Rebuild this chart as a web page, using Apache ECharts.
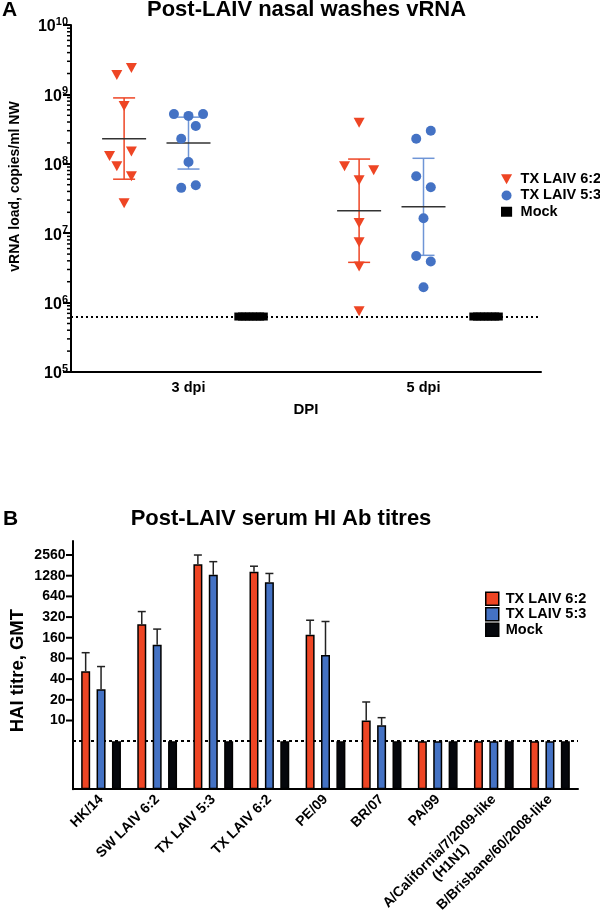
<!DOCTYPE html>
<html><head><meta charset="utf-8">
<script src="https://cdn.jsdelivr.net/npm/echarts@6/dist/echarts.min.js"></script>
<style>html,body{margin:0;padding:0;background:#fff}#c{width:600px;height:924px}</style>
</head><body><div id="c"></div>
<script>
// ---------- Panel A data (vRNA copies/ml NW) ----------
const dpiCategories = ['3 dpi', '5 dpi'];
const laiv62_3dpi = [2.4e9, 1.9e9, 6.8e8, 1.5e8, 1.3e8, 9.2e7, 6.6e7, 2.7e7];
const laiv62_5dpi = [3.9e8, 9.2e7, 8.1e7, 5.8e7, 1.4e7, 7.4e6, 3.3e6, 7.5e5];
const laiv53_3dpi = [5.2e8, 4.9e8, 5.2e8, 3.5e8, 2.3e8, 1.06e8, 4.5e7, 4.9e7];
const laiv53_5dpi = [3.0e8, 2.3e8, 6.6e7, 4.6e7, 1.64e7, 4.7e6, 3.9e6, 1.66e6];
const mock_3dpi = [6.3e5, 6.3e5, 6.3e5, 6.3e5, 6.3e5, 6.3e5, 6.3e5, 6.3e5];
const mock_5dpi = [6.3e5, 6.3e5, 6.3e5, 6.3e5, 6.3e5, 6.3e5, 6.3e5, 6.3e5];
// geometric mean and SD bounds, [3 dpi, 5 dpi]
const laiv62_mean = [2.3e8, 2.1e7];
const laiv62_sdLow = [6.0e7, 3.8e6];
const laiv62_sdHigh = [8.9e8, 1.17e8];
const laiv53_mean = [2.0e8, 2.4e7];
const laiv53_sdLow = [8.4e7, 4.8e6];
const laiv53_sdHigh = [4.7e8, 1.2e8];
const lodA = 6.3e5;

// ---------- Panel B data (HAI titre, GMT) ----------
const antigens = ['HK/14', 'SW LAIV 6:2', 'TX LAIV 5:3', 'TX LAIV 6:2', 'PE/09', 'BR/07', 'PA/99',
  'A/California/7/2009-like\n(H1N1)', 'B/Brisbane/60/2008-like'];
const hai62 = [52, 252, 1880, 1460, 177, 10, 5, 5, 5];
const hai62Err = [97, 385, 2560, 1760, 288, 18.6, null, null, null];
const hai53 = [28.4, 127, 1320, 1030, 90, 8.5, 5, 5, 5];
const hai53Err = [61, 214, 2050, 1380, 276, 11, null, null, null];
const haiMock = [5, 5, 5, 5, 5, 5, 5, 5, 5];
const lodB = 5;
const yTicksB = [10, 20, 40, 80, 160, 320, 640, 1280, 2560];

// ---------- layout / style (not data) ----------
const jit62_3 = [1, -1, 0, 1, -2, -1, 1, 0];
const jit62_5 = [0, -2, 2, 0, 0, 0, 0, 0];
const jit53_3 = [-2, 0, 2, 1, -1, 0, -1, 1];
const jit53_5 = [1, -1, -1, 1, 0, -1, 1, 0];
const jitMock = [-2, -1.5, -1, -0.5, 0, 0.5, 1, 1.5, 2];
const JIT = 0.062, GROUP = 0.548, BAR_STEP = 15.4;
const F = '"Liberation Sans", Arial, Helvetica, sans-serif';
const RED = '#EE4524', BLUE = '#4472C4', BLUE_SD = '#6F95D6', BLACK = '#05070C';

function pts(values, jit, cat, g) {
  return values.map((v, i) => [cat * 2 + 1 + g * GROUP + jit[i] * JIT, v]);
}
function sdRows(g, mean, lo, hi) {
  return mean.map((m, c) => [c * 2 + 1 + g * GROUP, m, lo[c], hi[c]]);
}
function sdRender(color) {
  return function (params, api) {
    const x = api.value(0);
    const pm = api.coord([x, api.value(1)]), pl = api.coord([x, api.value(2)]), ph = api.coord([x, api.value(3)]);
    const cx = pm[0], st = { stroke: color, lineWidth: 1.5 };
    return { type: 'group', children: [
      { type: 'line', shape: { x1: cx, y1: pl[1], x2: cx, y2: ph[1] }, style: st },
      { type: 'line', shape: { x1: cx - 11, y1: pl[1], x2: cx + 11, y2: pl[1] }, style: st },
      { type: 'line', shape: { x1: cx - 11, y1: ph[1], x2: cx + 11, y2: ph[1] }, style: st },
      { type: 'line', shape: { x1: cx - 22, y1: pm[1], x2: cx + 22, y2: pm[1] }, style: { stroke: '#333', lineWidth: 1.5 } }
    ]};
  };
}
// minor ticks of the log axis in panel A
const minorA = [];
for (let e = 5; e < 10; e++) for (let m = 2; m <= 9; m++) minorA.push([0, m * Math.pow(10, e)]);

const errData = [];
hai62Err.forEach((e, i) => { if (e != null) errData.push([i, hai62[i], e, -1]); });
hai53Err.forEach((e, i) => { if (e != null) errData.push([i, hai53[i], e, 0]); });

const chart = echarts.init(document.getElementById('c'), null, { renderer: 'canvas' });
const axisLineBlack = { show: true, lineStyle: { color: '#000', width: 2 } };

chart.setOption({
  animation: false,
  backgroundColor: '#fff',
  graphic: [
    { type: 'text', x: 2, y: 10, style: { text: 'A', font: 'bold 21px ' + F, fill: '#000', verticalAlign: 'middle' } },
    { type: 'text', x: 306.5, y: 10, style: { text: 'Post-LAIV nasal washes vRNA', font: 'bold 22px ' + F, fill: '#000', align: 'center', verticalAlign: 'middle' } },
    { type: 'text', x: 3, y: 519, style: { text: 'B', font: 'bold 21px ' + F, fill: '#000', verticalAlign: 'middle' } },
    { type: 'text', x: 281, y: 519, style: { text: 'Post-LAIV serum HI Ab titres', font: 'bold 22px ' + F, fill: '#000', align: 'center', verticalAlign: 'middle' } }
  ],
  legend: [
    { orient: 'vertical', left: 496, top: 166, itemWidth: 18, itemHeight: 10, itemGap: 0, selectedMode: false,
      textStyle: { fontFamily: F, fontSize: 14.5, fontWeight: 'bold', color: '#000', lineHeight: 16.3 },
      data: [
        { name: 'TX LAIV 6:2', icon: 'path://M0,0L10,0L5,9Z', itemStyle: { color: RED, borderWidth: 0 } },
        { name: 'TX LAIV 5:3', icon: 'circle', itemStyle: { color: BLUE, borderWidth: 0 } },
        { name: 'Mock', icon: 'path://M0,0H10V9H0Z', itemStyle: { color: '#000', borderWidth: 0 } }
      ] },
    { orient: 'vertical', left: 480, top: 586, itemWidth: 17, itemHeight: 13, itemGap: 0, selectedMode: false,
      textStyle: { fontFamily: F, fontSize: 14.5, fontWeight: 'bold', color: '#000', lineHeight: 15.5 },
      data: [
        { name: 'TX LAIV 6:2', icon: 'path://M0,0H10V10H0Z', itemStyle: { color: RED, borderColor: '#000', borderWidth: 1.5 } },
        { name: 'TX LAIV 5:3', icon: 'path://M0,0H10V10H0Z', itemStyle: { color: BLUE, borderColor: '#000', borderWidth: 1.5 } },
        { name: 'Mock', icon: 'path://M0,0H10V10H0Z', itemStyle: { color: BLACK, borderColor: '#000', borderWidth: 1.5 } }
      ] }
  ],
  grid: [
    { left: 70, top: 25, width: 471, height: 347 },
    { left: 70, top: 541, width: 508, height: 250 }
  ],
  xAxis: [
    { gridIndex: 0, type: 'category', data: dpiCategories, boundaryGap: true,
      axisLine: Object.assign({ onZero: false }, axisLineBlack),
      axisTick: { alignWithLabel: true, length: 5, lineStyle: { color: '#000', width: 2 } },
      axisLabel: { color: '#000', fontFamily: F, fontWeight: 'bold', fontSize: 14.5, margin: 8 },
      name: 'DPI', nameLocation: 'middle', nameGap: 30,
      nameTextStyle: { color: '#000', fontFamily: F, fontWeight: 'bold', fontSize: 15 } },
    { gridIndex: 0, type: 'value', min: 0, max: 4, show: false },
    { gridIndex: 1, type: 'category', data: antigens, boundaryGap: true,
      axisLine: Object.assign({ onZero: false }, axisLineBlack),
      axisTick: { alignWithLabel: true, length: 5, lineStyle: { color: '#000', width: 2 } },
      axisLabel: { color: '#000', fontFamily: F, fontWeight: 'bold', fontSize: 14, rotate: 45, interval: 0, margin: 8,
        formatter: function (v) {
          if (v.indexOf('\n') < 0) return '{c|' + v + '}';
          return '{c| }\n' + v.split('\n').map(s => '{c|' + s + '}').join('\n');
        },
        rich: { c: { align: 'center', fontFamily: F, fontWeight: 'bold', fontSize: 14, color: '#000', lineHeight: 16 } } } }
  ],
  yAxis: [
    { gridIndex: 0, type: 'log', logBase: 10, min: 1e5, max: 1e10,
      axisLine: axisLineBlack, splitLine: { show: false },
      axisTick: { show: true, length: 8, lineStyle: { color: '#000', width: 2 } },
      axisLabel: { margin: 3, fontFamily: F, fontWeight: 'bold', fontSize: 16, color: '#000',
        formatter: function (v) { return '{b|10}{s|' + Math.round(Math.log10(v)) + '}'; },
        rich: {
          b: { fontFamily: F, fontWeight: 'bold', fontSize: 16, color: '#000', lineHeight: 17, padding: [4, 0, 0, 0] },
          s: { fontFamily: F, fontWeight: 'bold', fontSize: 11, color: '#000', verticalAlign: 'top', lineHeight: 11 }
        } },
      name: 'vRNA load, copies/ml NW', nameLocation: 'middle', nameRotate: 90, nameGap: 49,
      nameTextStyle: { color: '#000', fontFamily: F, fontWeight: 'bold', fontSize: 14, padding: [0, 0, 0, 24] } },
    { gridIndex: 1, type: 'log', logBase: 2, min: 1, max: 4096,
      axisLine: axisLineBlack, splitLine: { show: false },
      axisTick: { show: false }, axisLabel: { show: false },
      name: 'HAI titre, GMT', nameLocation: 'middle', nameRotate: 90, nameGap: 46,
      nameTextStyle: { color: '#000', fontFamily: F, fontWeight: 'bold', fontSize: 18.5, padding: [0, 11, 0, 0] } }
  ],
  series: [
    // ---- Panel A ----
    { type: 'custom', xAxisIndex: 1, yAxisIndex: 0, renderItem: sdRender(RED), z: 3,
      dimensions: ['x', 'mean', 'lo', 'hi'], encode: { x: 'x', y: ['mean', 'lo', 'hi'] },
      data: sdRows(-1, laiv62_mean, laiv62_sdLow, laiv62_sdHigh) },
    { type: 'custom', xAxisIndex: 1, yAxisIndex: 0, renderItem: sdRender(BLUE_SD), z: 3,
      dimensions: ['x', 'mean', 'lo', 'hi'], encode: { x: 'x', y: ['mean', 'lo', 'hi'] },
      data: sdRows(0, laiv53_mean, laiv53_sdLow, laiv53_sdHigh) },
    { name: 'TX LAIV 6:2', type: 'scatter', xAxisIndex: 1, yAxisIndex: 0, z: 4,
      symbol: 'triangle', symbolRotate: 180, symbolSize: [11, 10], itemStyle: { color: RED, opacity: 1 },
      data: pts(laiv62_3dpi, jit62_3, 0, -1).concat(pts(laiv62_5dpi, jit62_5, 1, -1)) },
    { name: 'TX LAIV 5:3', type: 'scatter', xAxisIndex: 1, yAxisIndex: 0, z: 4,
      symbol: 'circle', symbolSize: 10, itemStyle: { color: BLUE, opacity: 1 },
      data: pts(laiv53_3dpi, jit53_3, 0, 0).concat(pts(laiv53_5dpi, jit53_5, 1, 0)) },
    { name: 'Mock', type: 'scatter', xAxisIndex: 1, yAxisIndex: 0, z: 4,
      symbol: 'rect', symbolSize: 8, itemStyle: { color: '#000', opacity: 1 },
      data: pts(mock_3dpi, jitMock, 0, 1).concat(pts(mock_5dpi, jitMock, 1, 1)),
      markLine: { silent: true, z: 1, symbol: 'none', label: { show: false },
        lineStyle: { color: '#000', width: 2, type: [2, 3] }, data: [{ yAxis: lodA }] } },
    { type: 'custom', xAxisIndex: 1, yAxisIndex: 0, silent: true, z: 3,
      renderItem: function (params, api) {
        const y = api.coord([0, api.value(1)])[1], x0 = params.coordSys.x;
        return { type: 'line', shape: { x1: x0 - 4, y1: y, x2: x0, y2: y }, style: { stroke: '#000', lineWidth: 1.5 } };
      }, data: minorA },
    // ---- Panel B ----
    { name: 'TX LAIV 6:2', type: 'bar', xAxisIndex: 2, yAxisIndex: 1, barWidth: 9, barGap: '71%', z: 2,
      itemStyle: { color: RED, borderColor: '#000', borderWidth: 1.5 }, data: hai62 },
    { name: 'TX LAIV 5:3', type: 'bar', xAxisIndex: 2, yAxisIndex: 1, barWidth: 9, barGap: '71%', z: 2,
      itemStyle: { color: BLUE, borderColor: '#000', borderWidth: 1.5 }, data: hai53 },
    { name: 'Mock', type: 'bar', xAxisIndex: 2, yAxisIndex: 1, barWidth: 9, barGap: '71%', z: 2,
      itemStyle: { color: BLACK, borderColor: '#000', borderWidth: 1.5 }, data: haiMock,
      markLine: { silent: true, z: 1, symbol: 'none', label: { show: false },
        lineStyle: { color: '#000', width: 2, type: [3, 3] }, data: [{ yAxis: lodB }] } },
    { type: 'custom', xAxisIndex: 2, yAxisIndex: 1, z: 3, silent: true,
      dimensions: ['cat', 'val', 'err', 'k'], encode: { x: 'cat', y: ['val', 'err'] },
      renderItem: function (params, api) {
        const i = api.value(0), k = api.value(3);
        const p0 = api.coord([i, api.value(1)]), p1 = api.coord([i, api.value(2)]);
        const x = p0[0] + k * BAR_STEP, st = { stroke: '#222', lineWidth: 1.5 };
        return { type: 'group', children: [
          { type: 'line', shape: { x1: x, y1: p0[1], x2: x, y2: p1[1] }, style: st },
          { type: 'line', shape: { x1: x - 4, y1: p1[1], x2: x + 4, y2: p1[1] }, style: st }
        ]};
      }, data: errData },
    { type: 'custom', xAxisIndex: 2, yAxisIndex: 1, z: 3, silent: true,
      renderItem: function (params, api) {
        const v = api.value(1), y = api.coord([0, v])[1], x0 = params.coordSys.x;
        return { type: 'group', children: [
          { type: 'line', shape: { x1: x0 - 7, y1: y, x2: x0, y2: y }, style: { stroke: '#000', lineWidth: 2 } },
          { type: 'text', x: x0 - 7.5, y: y, style: { text: String(v), align: 'right', verticalAlign: 'middle',
              font: 'bold 14px ' + F, fill: '#000' } }
        ]};
      }, data: yTicksB.map(v => [0, v]) }
  ]
});
</script></body></html>
